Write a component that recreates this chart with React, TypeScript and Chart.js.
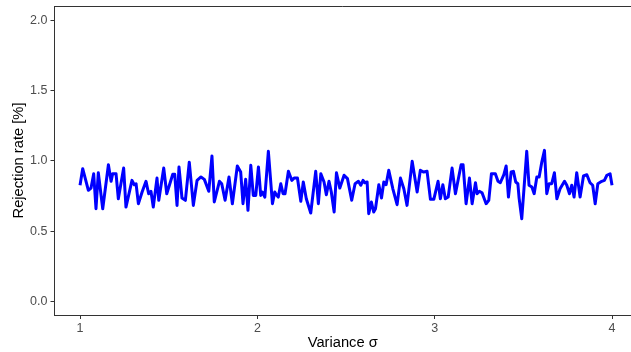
import React, { useEffect, useRef } from "react";
import { Chart, registerables } from "chart.js";

Chart.register(...registerables);

// Variance σ positions (turning points)
const varianceX: number[] = [
  1.0, 1.015, 1.047, 1.062, 1.077, 1.09, 1.103, 1.128, 1.16, 1.175, 1.184, 1.203, 1.216, 1.246, 1.259,
  1.293, 1.306, 1.316, 1.329, 1.35, 1.372, 1.387, 1.4, 1.413, 1.434, 1.444, 1.472, 1.489, 1.523, 1.534,
  1.547, 1.558, 1.575, 1.594, 1.616, 1.639, 1.66, 1.682, 1.701, 1.726, 1.744, 1.757, 1.786,
  1.799, 1.818, 1.84, 1.859, 1.887, 1.906, 1.919, 1.934, 1.947, 1.963, 1.977, 1.991, 2.006, 2.019, 2.028,
  2.042, 2.062, 2.085, 2.098, 2.107, 2.118, 2.132, 2.145, 2.156, 2.175, 2.194, 2.207, 2.226, 2.245, 2.259,
  2.276, 2.301, 2.329, 2.344, 2.358, 2.376, 2.389, 2.404, 2.417, 2.433, 2.446, 2.465, 2.489, 2.508, 2.532,
  2.551, 2.57, 2.583, 2.596,
  2.606, 2.619, 2.628, 2.643, 2.656, 2.666, 2.685, 2.7, 2.713, 2.726, 2.741, 2.764, 2.788, 2.807, 2.826,
  2.844, 2.873, 2.901, 2.919, 2.938, 2.957, 2.976, 2.995, 3.019, 3.032, 3.046, 3.06, 3.076, 3.098, 3.117,
  3.149, 3.16, 3.177, 3.196, 3.211, 3.23, 3.239, 3.252, 3.267, 3.29, 3.305, 3.32, 3.342, 3.357, 3.37,
  3.39, 3.403,
  3.416, 3.431, 3.444, 3.457, 3.469, 3.476, 3.491, 3.519, 3.532, 3.548, 3.561, 3.576, 3.589, 3.604, 3.619,
  3.632, 3.645, 3.66, 3.675, 3.689, 3.707, 3.732, 3.745, 3.76, 3.773, 3.786, 3.801, 3.82, 3.839, 3.858,
  3.876, 3.891, 3.905, 3.92, 3.942, 3.957, 3.971, 3.989, 4.0,
];

// Rejection rate [%]
const rejectionRate: number[] = [
  0.826, 0.944, 0.79, 0.806, 0.908, 0.659, 0.915, 0.659, 0.972, 0.854, 0.908, 0.908, 0.73, 0.948, 0.671,
  0.861, 0.83, 0.837, 0.695, 0.778, 0.854, 0.766, 0.783, 0.671, 0.877, 0.719, 0.948, 0.766, 0.904, 0.904,
  0.683, 0.956, 0.735, 0.719, 0.99, 0.683, 0.861, 0.885, 0.868, 0.783, 1.034, 0.707, 0.854,
  0.837, 0.719, 0.885, 0.695, 0.963, 0.92, 0.695, 0.868, 0.648, 0.968, 0.754, 0.754, 0.956, 0.754, 0.778,
  0.742, 1.067, 0.695, 0.778, 0.759, 0.742, 0.837, 0.766, 0.766, 0.925, 0.861, 0.877, 0.877, 0.712, 0.849,
  0.73, 0.629, 0.925, 0.695, 0.908, 0.849, 0.759, 0.854, 0.778, 0.636, 0.915, 0.806, 0.897, 0.873, 0.719,
  0.837, 0.854, 0.826, 0.861,
  0.844, 0.849, 0.624, 0.707, 0.636, 0.659, 0.83, 0.735, 0.849, 0.83, 0.932, 0.801, 0.688, 0.877, 0.801,
  0.683, 0.996, 0.778, 0.932, 0.92, 0.925, 0.726, 0.726, 0.854, 0.73, 0.83, 0.73, 0.742, 0.948, 0.766,
  0.972, 0.972, 0.695, 0.877, 0.695, 0.844, 0.766, 0.783, 0.773, 0.695, 0.719, 0.908, 0.908, 0.854, 0.844,
  0.901, 0.963,
  0.742, 0.92, 0.925, 0.849, 0.837, 0.735, 0.588, 1.067, 0.826, 0.813, 0.766, 0.885, 0.885, 0.991, 1.074,
  0.766, 0.837, 0.837, 0.915, 0.73, 0.801, 0.854, 0.826, 0.766, 0.826, 0.742, 0.915, 0.742, 0.892, 0.901,
  0.844, 0.826, 0.695, 0.837, 0.854, 0.861, 0.897, 0.908, 0.826,
];

const xTicks: number[] = [1, 2, 3, 4];
const yTicks: number[] = [0, 0.5, 1.0, 1.5, 2.0];

const FONT = "'Liberation Sans', Arial, sans-serif";

const topBorder = {
  id: "topBorder",
  afterDraw(chart: any) {
    const { ctx, chartArea } = chart;
    ctx.save();
    ctx.strokeStyle = "#333333";
    ctx.lineWidth = 1;
    ctx.beginPath();
    ctx.moveTo(chartArea.left, Math.round(chartArea.top) + 0.5);
    ctx.lineTo(chartArea.right, Math.round(chartArea.top) + 0.5);
    ctx.stroke();
    ctx.restore();
  },
};

export default function App() {
  const ref = useRef<HTMLCanvasElement | null>(null);

  useEffect(() => {
    if (!ref.current) return;
    const points = varianceX.map((x, i) => ({ x, y: rejectionRate[i] }));
    const chart = new Chart(ref.current, {
      type: "line",
      data: {
        datasets: [
          {
            data: points,
            borderColor: "#0000FF",
            borderWidth: 3,
            pointRadius: 0,
            tension: 0,
            borderJoinStyle: "round",
            borderCapStyle: "butt",
            fill: false,
          },
        ],
      },
      options: {
        animation: false,
        responsive: false,
        devicePixelRatio: 1,
        layout: { padding: { top: 6, right: 0, left: 0, bottom: 0 } },
        plugins: { legend: { display: false }, tooltip: { enabled: false } },
        scales: {
          x: {
            type: "linear",
            min: 0.856,
            max: 4.107,
            afterBuildTicks: (s: any) => {
              s.ticks = xTicks.map((v) => ({ value: v }));
            },
            afterFit: (s: any) => {
              s.height = 37;
              s.paddingLeft = 0;
              s.paddingRight = 0;
            },
            grid: {
              drawOnChartArea: false,
              drawTicks: true,
              tickLength: 4,
              tickColor: "#333333",
              tickWidth: 1,
            },
            border: { display: true, color: "#333333", width: 1 },
            ticks: {
              color: "#4D4D4D",
              font: { family: FONT, size: 12.5 },
              padding: 2,
              maxRotation: 0,
              callback: (v: any) => String(v),
            },
            title: {
              display: true,
              text: "Variance σ",
              color: "#000000",
              font: { family: FONT, size: 14.7 },
              padding: { top: 1, bottom: 0 },
            },
          },
          y: {
            type: "linear",
            min: -0.096,
            max: 2.1,
            afterBuildTicks: (s: any) => {
              s.ticks = yTicks.map((v) => ({ value: v }));
            },
            afterFit: (s: any) => {
              s.width = 54.5;
              s.paddingTop = 0;
              s.paddingBottom = 0;
            },
            grid: {
              drawOnChartArea: false,
              drawTicks: true,
              tickLength: 4,
              tickColor: "#333333",
              tickWidth: 1,
            },
            border: { display: true, color: "#333333", width: 1 },
            ticks: {
              color: "#4D4D4D",
              font: { family: FONT, size: 12.5 },
              padding: 3,
              callback: (v: any) => Number(v).toFixed(1),
            },
            title: {
              display: true,
              text: "Rejection rate [%]",
              color: "#000000",
              font: { family: FONT, size: 14.7 },
              padding: { top: 10, bottom: 0 },
            },
          },
        },
      },
      plugins: [topBorder],
    });
    return () => chart.destroy();
  }, []);

  return (
    <div style={{ position: "absolute", left: 0, top: 0, width: 631, height: 352, background: "#fff" }}>
      <canvas ref={ref} width={631} height={352} style={{ display: "block", width: 631, height: 352 }} />
    </div>
  );
}
